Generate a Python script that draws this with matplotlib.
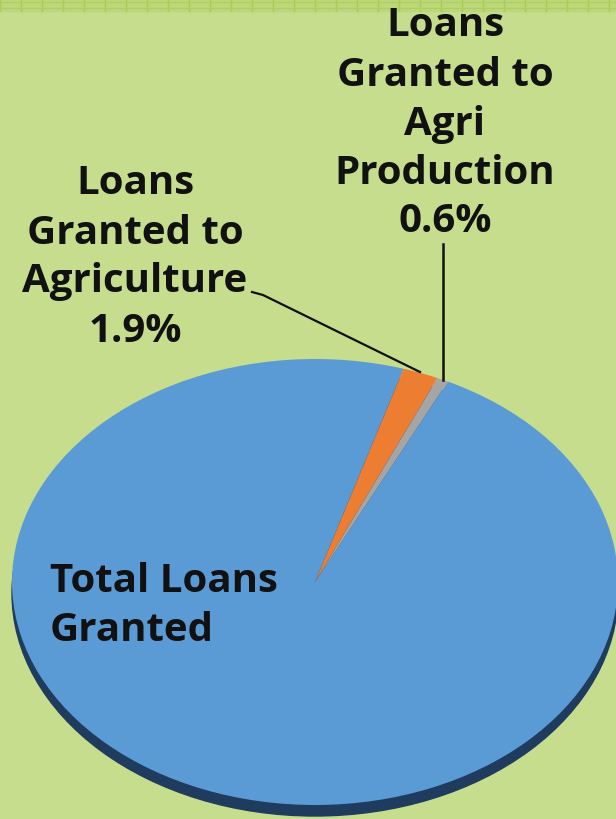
import matplotlib
matplotlib.use("Agg")
import matplotlib.pyplot as plt
from matplotlib.patches import Ellipse, Rectangle
from matplotlib.lines import Line2D

categories = ["Total Loans Granted", "Loans Granted to Agriculture", "Loans Granted to Agri Production"]
values = [97.5, 1.9, 0.6]
colors = ["#5b9bd5", "#ed7d31", "#a5a5a5"]
label_right = ["Loans", "Granted to", "Agri", "Production", "0.6%"]
label_left = ["Loans", "Granted to", "Agriculture", "1.9%"]
label_total = ["Total Loans", "Granted"]

W, H = 616, 820
fig = plt.figure(figsize=(W / 100, H / 100), dpi=100)
fig.patch.set_facecolor("#c6dd8e")

def fx(x):
    return x / W

def fy(y):
    return 1 - y / H

# top decorative strip
bg = fig.add_axes([0, 0, 1, 1])
bg.set_xlim(0, W)
bg.set_ylim(H, 0)
bg.axis("off")
bg.add_patch(Rectangle((0, 0), W, 12, color="#bcd77a", zorder=0))
for xx in range(0, W, 21):
    bg.add_line(Line2D([xx, xx], [0, 12], color="#a9cc55", lw=1.0, zorder=1))
bg.add_line(Line2D([0, W], [3, 3], color="#add05c", lw=0.8, zorder=1))
bg.add_line(Line2D([0, W], [9, 9], color="#add05c", lw=0.8, zorder=1))

# pie geometry (pixels)
cx, cy, a, b = 315, 583, 303, 223
depth = 11

# 3D rim
bg.add_patch(Ellipse((cx, cy + depth), 2 * a, 2 * b, color="#1f3b5e", zorder=2))

ax = fig.add_axes([fx(cx - a), fy(cy + b), 2 * a / W, 2 * b / H])
ax.pie(values, colors=colors, startangle=64, counterclock=False,
       wedgeprops=dict(linewidth=0), radius=1.0)
ax.set_aspect("auto")
ax.set_xlim(-1, 1)
ax.set_ylim(-1, 1)
ax.axis("off")

fam = ["Open Sans", "DejaVu Sans"]
fs = 29
tc = "#111111"

def put(lines, x, y0, step, ha="center"):
    for i, t in enumerate(lines):
        fig.text(fx(x), fy(y0 + i * step), t, ha=ha, va="center",
                 fontsize=fs, fontweight="bold", family=fam, color=tc)

put(label_right, 445, 26, 49)
put(label_left, 135, 184, 49)
put(label_total, 50, 582, 49, ha="left")

# leader lines
over = fig.add_axes([0, 0, 1, 1], facecolor="none")
over.set_xlim(0, W)
over.set_ylim(H, 0)
over.axis("off")
over.add_line(Line2D([252, 263, 420], [293, 296, 373], color="#111111", lw=1.6))
over.add_line(Line2D([443, 443], [245, 381], color="#111111", lw=1.8))

fig.savefig("out.png", dpi=100, facecolor=fig.get_facecolor())
